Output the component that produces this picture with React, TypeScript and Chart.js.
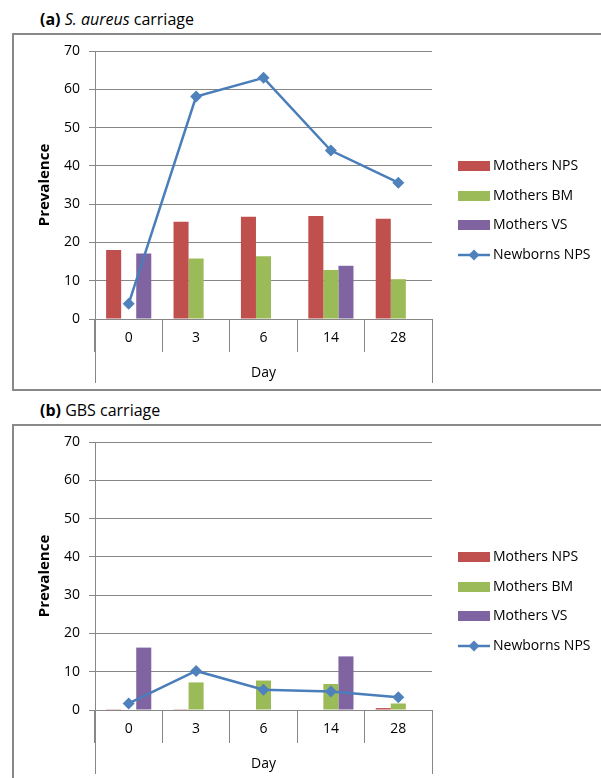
import React, { useEffect, useRef } from "react";
import { Chart, registerables } from "chart.js";
Chart.register(...registerables);

const days = ["0", "3", "6", "14", "28"];
const yTicks = [0, 10, 20, 30, 40, 50, 60, 70];
const seriesLabels = ["Mothers NPS", "Mothers BM", "Mothers VS", "Newborns NPS"];

const aMothersNPS = [18.0, 25.4, 26.7, 26.9, 26.2];
const aMothersBM = [0, 15.8, 16.4, 12.8, 10.4];
const aMothersVS = [17.1, 0, 0, 13.9, 0];
const aNewbornsNPS = [4.0, 58.1, 63.0, 44.0, 35.6];

const bMothersNPS = [0.2, 0.2, 0, 0, 0.5];
const bMothersBM = [0, 7.2, 7.7, 6.8, 1.7];
const bMothersVS = [16.3, 0, 0, 14.0, 0];
const bNewbornsNPS = [1.7, 10.2, 5.3, 4.8, 3.3];

const RED = "#C0504D";
const GREEN = "#9BBB59";
const PURPLE = "#8064A2";
const BLUE = "#4A7EBB";
const GRID = "#878787";
const FONT = "'Open Sans', 'DejaVu Sans', sans-serif";

const PANEL_H = 358;
const CANVAS_W = 601;

const decorPlugin = {
  id: "decor",
  afterDraw(chart: any) {
    const { ctx, chartArea } = chart;
    ctx.save();
    ctx.strokeStyle = GRID;
    ctx.lineWidth = 1;
    [chartArea.left, chartArea.right].forEach((x: number) => {
      const xx = Math.round(x) + 0.5;
      ctx.beginPath();
      ctx.moveTo(xx, chartArea.bottom);
      ctx.lineTo(xx, chartArea.bottom + 64);
      ctx.stroke();
    });
    const rows = [133, 163, 192, 222];
    const lx = 458;
    const lw = 32;
    ctx.font = "14px " + FONT;
    ctx.textBaseline = "middle";
    ctx.textAlign = "left";
    chart.data.datasets.forEach((ds: any, i: number) => {
      const y = rows[i];
      if (ds.type === "line") {
        ctx.strokeStyle = ds.borderColor;
        ctx.lineWidth = 2.5;
        ctx.beginPath();
        ctx.moveTo(lx, y);
        ctx.lineTo(lx + lw, y);
        ctx.stroke();
        const cx = lx + lw / 2;
        const r = 5.5;
        ctx.fillStyle = ds.pointBackgroundColor;
        ctx.beginPath();
        ctx.moveTo(cx, y - r);
        ctx.lineTo(cx + r, y);
        ctx.lineTo(cx, y + r);
        ctx.lineTo(cx - r, y);
        ctx.closePath();
        ctx.fill();
      } else {
        ctx.fillStyle = ds.backgroundColor;
        ctx.fillRect(lx, y - 5, lw, 10);
      }
      ctx.fillStyle = "#000";
      ctx.fillText(ds.label, lx + lw + 3, y);
    });
    ctx.restore();
  },
};

function Panel(props: {
  top: number;
  title: React.ReactNode;
  nps: number[];
  bm: number[];
  vs: number[];
  nb: number[];
}) {
  const ref = useRef<HTMLCanvasElement>(null);
  useEffect(() => {
    const chart = new Chart(ref.current as HTMLCanvasElement, {
      type: "bar",
      data: {
        labels: days,
        datasets: [
          { type: "bar", label: seriesLabels[0], data: props.nps, backgroundColor: RED, order: 1 },
          { type: "bar", label: seriesLabels[1], data: props.bm, backgroundColor: GREEN, order: 1 },
          { type: "bar", label: seriesLabels[2], data: props.vs, backgroundColor: PURPLE, order: 1 },
          {
            type: "line",
            label: seriesLabels[3],
            data: props.nb,
            borderColor: BLUE,
            borderWidth: 2.5,
            pointStyle: "rectRot",
            pointRadius: 6,
            pointBackgroundColor: "#4F81BD",
            pointBorderColor: "#4F81BD",
            pointBorderWidth: 0,
            tension: 0,
            order: 0,
          } as any,
        ],
      },
      options: {
        responsive: false,
        animation: false,
        devicePixelRatio: 1,
        layout: { padding: { left: 0, right: CANVAS_W - 432, top: 18, bottom: 0 } },
        plugins: { legend: { display: false }, tooltip: { enabled: false } },
        datasets: { bar: { categoryPercentage: 0.67, barPercentage: 1.0, borderWidth: 0 } },
        scales: {
          x: {
            offset: true,
            grid: {
              display: true,
              drawOnChartArea: false,
              drawTicks: true,
              tickLength: 33,
              color: GRID,
              offset: true,
            },
            border: { display: true, color: GRID, width: 1 },
            ticks: { color: "#000", font: { family: FONT, size: 14 }, padding: -22, maxRotation: 0 },
            title: {
              display: true,
              text: "Day",
              color: "#000",
              font: { family: FONT, size: 14 },
              padding: { top: 0, bottom: 10 },
            },
            afterFit: (s: any) => {
              s.height = 72;
            },
          },
          y: {
            min: yTicks[0],
            max: yTicks[yTicks.length - 1],
            afterBuildTicks: (s: any) => {
              s.ticks = yTicks.map((v) => ({ value: v }));
            },
            grid: { color: GRID, drawTicks: true, tickLength: 6 },
            border: { display: true, color: GRID, width: 1 },
            ticks: { color: "#000", font: { family: FONT, size: 14 }, padding: 9 },
            title: {
              display: true,
              text: "Prevalence",
              color: "#000",
              font: { family: FONT, size: 15, weight: "bold" },
              padding: { top: 36, bottom: 0 },
            },
            afterFit: (s: any) => {
              s.width = 95;
            },
          },
        },
      },
      plugins: [decorPlugin],
    } as any);
    return () => chart.destroy();
  }, []);
  const { top } = props;
  return (
    <>
      <div
        style={{
          position: "absolute",
          left: 40,
          top: top - 24,
          fontFamily: FONT,
          fontSize: 16,
          lineHeight: "20px",
          whiteSpace: "nowrap",
          color: "#000",
        }}
      >
        {props.title}
      </div>
      <div
        style={{
          position: "absolute",
          left: 12,
          top,
          width: 640,
          height: PANEL_H,
          border: "2px solid #898989",
          boxSizing: "border-box",
        }}
      />
      <canvas
        ref={ref}
        width={CANVAS_W}
        height={PANEL_H}
        style={{ position: "absolute", left: 0, top, width: CANVAS_W, height: PANEL_H }}
      />
    </>
  );
}

export default function App() {
  return (
    <div
      style={{
        position: "absolute",
        left: 0,
        top: 0,
        width: 601,
        height: 778,
        overflow: "hidden",
        background: "#fff",
      }}
    >
      <Panel
        top={33}
        title={
          <>
            <b>(a)</b> <i>S. aureus</i> carriage
          </>
        }
        nps={aMothersNPS}
        bm={aMothersBM}
        vs={aMothersVS}
        nb={aNewbornsNPS}
      />
      <Panel
        top={424}
        title={
          <>
            <b>(b)</b> GBS carriage
          </>
        }
        nps={bMothersNPS}
        bm={bMothersBM}
        vs={bMothersVS}
        nb={bNewbornsNPS}
      />
    </div>
  );
}
